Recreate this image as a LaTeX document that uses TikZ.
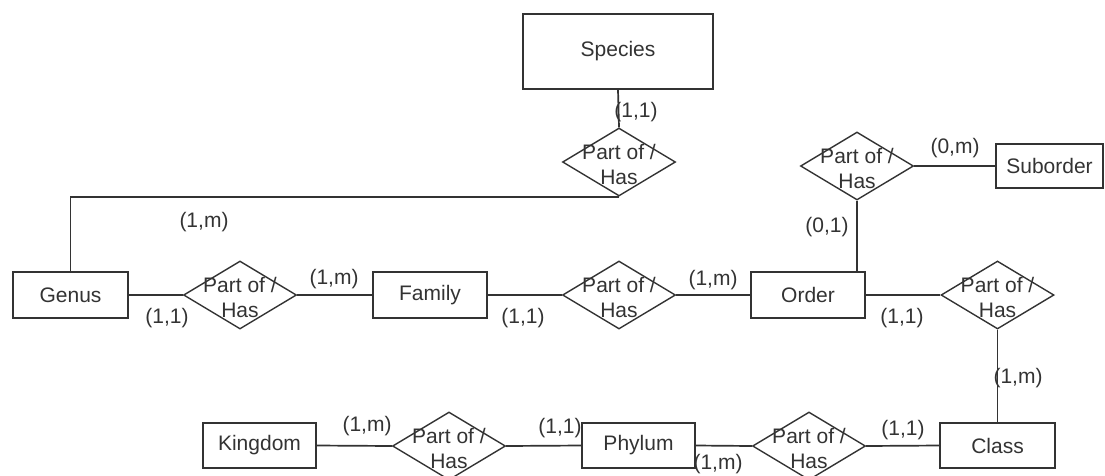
\documentclass[tikz,border=0pt]{standalone}
\usepackage{fontspec}
\setmainfont{Liberation Sans}
\usetikzlibrary{shapes.geometric}
\begin{document}
\begin{tikzpicture}[x=1pt,y=-1pt,
  font=\fontsize{21}{24}\selectfont,
  every node/.style={text=black!80},
  ent/.style={draw=black!80,line width=1.7pt,rectangle,inner sep=0pt,minimum height=46pt},
  rel/.style={draw=black!80,line width=1.4pt,diamond,inner sep=0pt,minimum width=113pt,minimum height=68pt,
    label={[align=center,text=black!80,font=\fontsize{21}{25}\selectfont,yshift=-2pt]center:Part of /\\Has}},
  conn/.style={draw=black!80,line width=1.7pt},
  card/.style={inner sep=0pt,text=black!80}]
\useasboundingbox (0,0) rectangle (1105,475);
% entities
\node[ent,minimum width=190pt,minimum height=75pt] (species) at (618,51.5) {Species};
\node[ent,minimum width=107pt,minimum height=44pt] (suborder) at (1049.5,166) {Suborder};
\node[ent,minimum width=115pt] (genus) at (70.5,295) {Genus};
\node[ent,minimum width=114pt] (family) at (430,295) {Family};
\node[ent,minimum width=114pt] (order) at (808,295) {Order};
\node[ent,minimum width=115pt,minimum height=45pt] (class) at (997.5,445.5) {Class};
\node[ent,minimum width=113pt,minimum height=45pt] (kingdom) at (259.5,445.5) {Kingdom};
\node[ent,minimum width=113pt,minimum height=45pt] (phylum) at (638.5,445.5) {Phylum};
% relationships
\node[rel] (d1) at (619,162) {};
\node[rel] (d2) at (240,295) {};
\node[rel] (d3) at (619,295) {};
\node[rel] (d4) at (997.5,295) {};
\node[rel] (d5) at (809,446) {};
\node[rel] (d6) at (449,446) {};
\node[rel] (d7) at (857,166) {};
% connectors
\draw[conn] (species.south) -- (d1.north);
\draw[conn] (d1.south) -| (genus.north);
\draw[conn] (genus.east) -- (d2.west);
\draw[conn] (d2.east) -- (family.west);
\draw[conn] (family.east) -- (d3.west);
\draw[conn] (d3.east) -- (order.west);
\draw[conn] (order.east) -- (d4.west);
\draw[conn] (d4.south) -- (class.north);
\draw[conn] (class.west) -- (d5.east);
\draw[conn] (d5.west) -- (phylum.east);
\draw[conn] (phylum.west) -- (d6.east);
\draw[conn] (d6.west) -- (kingdom.east);
\draw[conn] (d7.east) -- (suborder.west);
\draw[conn] (d7.south) -- (d7.south |- order.north);
% cardinalities
\node[card] (c1) at (636,112) {(1,1)};
\node[card] (c2) at (204,222) {(1,m)};
\node[card] (c3) at (167,318) {(1,1)};
\node[card] (c4) at (334,279) {(1,m)};
\node[card] (c5) at (523,318) {(1,1)};
\node[card] (c6) at (713,280) {(1,m)};
\node[card] (c7) at (902,318) {(1,1)};
\node[card] (c8) at (1018,378) {(1,m)};
\node[card] (c9) at (903,430) {(1,1)};
\node[card] (c10) at (718,464) {(1,m)};
\node[card] (c11) at (560,428) {(1,1)};
\node[card] (c12) at (367,426) {(1,m)};
\node[card] (c13) at (955,148) {(0,m)};
\node[card] (c14) at (827,227) {(0,1)};
\end{tikzpicture}
\end{document}
